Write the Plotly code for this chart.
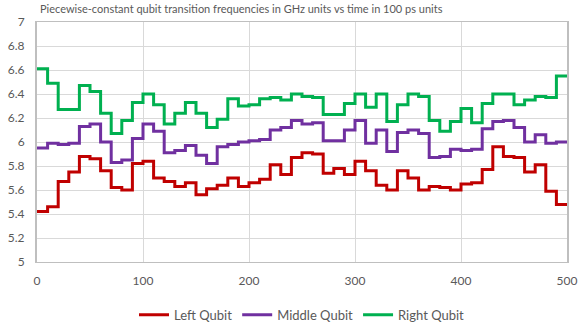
import plotly.graph_objects as go

time_steps = list(range(0, 500, 10)) + [500]

left_qubit = [5.42, 5.46, 5.67, 5.75, 5.88, 5.86, 5.76, 5.62, 5.60, 5.82,
              5.84, 5.70, 5.67, 5.63, 5.66, 5.56, 5.61, 5.64, 5.70, 5.63,
              5.66, 5.69, 5.81, 5.73, 5.87, 5.91, 5.90, 5.74, 5.78, 5.73,
              5.84, 5.76, 5.64, 5.60, 5.76, 5.70, 5.60, 5.63, 5.62, 5.60,
              5.65, 5.66, 5.77, 5.96, 5.88, 5.87, 5.75, 5.81, 5.59, 5.48]
middle_qubit = [5.95, 5.99, 5.98, 5.99, 6.13, 6.15, 6.00, 5.83, 5.85, 6.03,
                6.15, 6.09, 5.91, 5.93, 5.97, 5.89, 5.82, 5.96, 5.98, 6.00,
                6.01, 6.02, 6.10, 6.12, 6.18, 6.15, 6.16, 6.01, 6.01, 6.10,
                6.18, 5.99, 6.10, 5.92, 6.08, 6.10, 6.07, 5.87, 5.88, 5.94,
                5.93, 5.94, 6.11, 6.17, 6.18, 6.12, 6.00, 6.06, 5.99, 6.00]
right_qubit = [6.61, 6.49, 6.27, 6.27, 6.47, 6.42, 6.24, 6.07, 6.18, 6.33,
               6.40, 6.31, 6.15, 6.24, 6.33, 6.24, 6.12, 6.19, 6.36, 6.30,
               6.31, 6.36, 6.37, 6.35, 6.40, 6.38, 6.37, 6.23, 6.23, 6.32,
               6.40, 6.29, 6.40, 6.17, 6.31, 6.40, 6.38, 6.18, 6.09, 6.17,
               6.28, 6.16, 6.32, 6.40, 6.40, 6.31, 6.35, 6.38, 6.37, 6.55]

y_tick_vals = [5, 5.2, 5.4, 5.6, 5.8, 6, 6.2, 6.4, 6.6, 6.8, 7]
y_tick_text = ["5", "5.2", "5.4", "5.6", "5.8", "6", "6.2", "6.4", "6.6", "6.8", "7"]
x_tick_vals = [0, 100, 200, 300, 400, 500]

series = [
    ("Left Qubit", left_qubit, "#C00000"),
    ("Middle Qubit", middle_qubit, "#7030A0"),
    ("Right Qubit", right_qubit, "#00B050"),
]

fig = go.Figure()
for name, vals, color in series:
    fig.add_trace(go.Scatter(
        x=time_steps, y=vals + [vals[-1]], mode="lines", name=name,
        line=dict(color=color, width=3, shape="hv"),
    ))

font_family = "Lato, 'Open Sans', sans-serif"
fig.update_layout(
    width=582, height=324,
    margin=dict(l=37, r=15, t=22, b=62, autoexpand=False),
    paper_bgcolor="white", plot_bgcolor="white",
    font=dict(family=font_family, color="#595959", size=12),
    title=dict(
        text="Piecewise-constant qubit transition frequencies in GHz units vs time in 100 ps units",
        x=40 / 582, xanchor="left", y=1 - 9 / 324, yanchor="middle",
        font=dict(size=11, color="#595959", family=font_family),
    ),
    showlegend=True,
    legend=dict(
        orientation="h", x=0.5, xanchor="center", y=-0.22, yanchor="middle",
        font=dict(size=13, color="#595959"),
        itemwidth=30, tracegroupgap=0,
    ),
)
fig.update_xaxes(
    range=[0, 500], tickvals=x_tick_vals, automargin=False,
    showgrid=True, gridcolor="#D9D9D9", gridwidth=1,
    showline=True, linecolor="#BFBFBF", linewidth=1, mirror=True,
    zeroline=False, ticks="", ticklen=0, ticklabelstandoff=8,
)
fig.update_yaxes(
    range=[5, 7], tickvals=y_tick_vals, ticktext=y_tick_text, automargin=False,
    showgrid=True, gridcolor="#D9D9D9", gridwidth=1,
    showline=True, linecolor="#BFBFBF", linewidth=2, mirror=True,
    zeroline=False, ticks="", ticklen=0, ticklabelstandoff=8,
)

fig.write_html("out.html", config={"displayModeBar": False},
               post_script="document.body.style.margin='0';")
